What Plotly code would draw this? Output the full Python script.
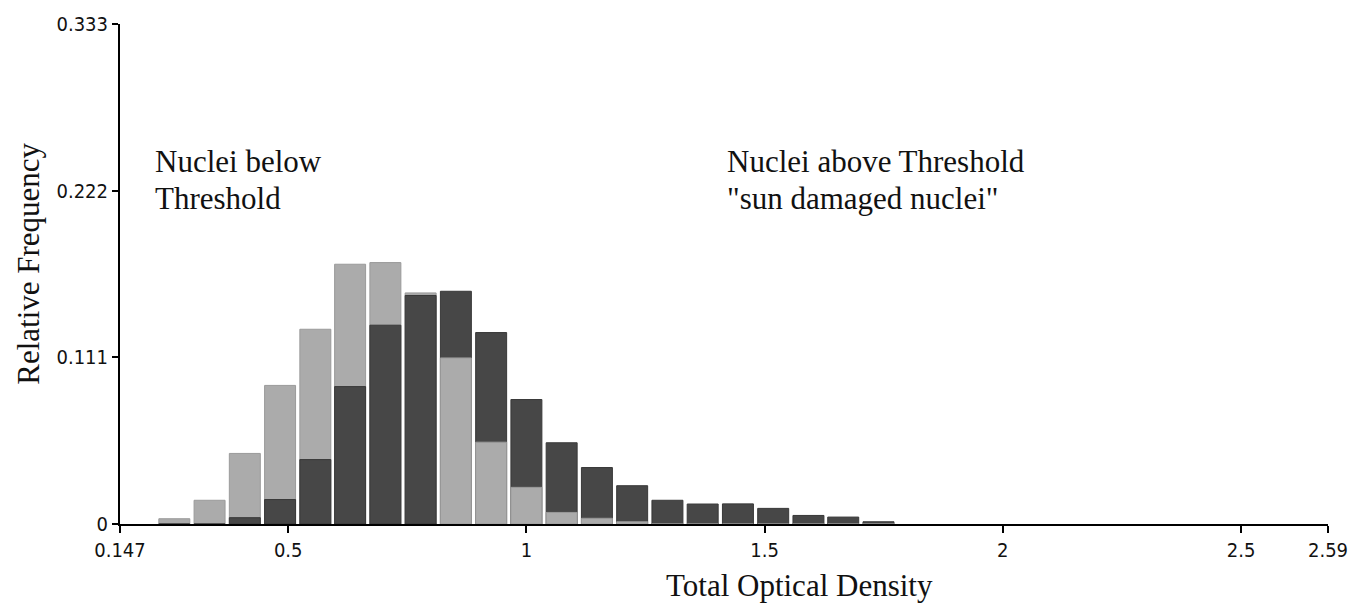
import plotly.graph_objects as go

# ---- data ----
bin_centers = [0.261, 0.335, 0.409, 0.483, 0.557, 0.630, 0.704, 0.778, 0.852, 0.926,
               1.000, 1.074, 1.148, 1.222, 1.296, 1.370, 1.444, 1.518, 1.592, 1.665, 1.739]
below_threshold = [0.0035, 0.0158, 0.0470, 0.0923, 0.1297, 0.1730, 0.1741, 0.1539, 0.1106, 0.0545,
                   0.0244, 0.0077, 0.0038, 0.0015, 0.0, 0.0, 0.0, 0.0, 0.0, 0.0, 0.0]
above_threshold = [0.0, 0.0, 0.0042, 0.0163, 0.0429, 0.0915, 0.1324, 0.1522, 0.1550, 0.1275,
                   0.0829, 0.0541, 0.0376, 0.0255, 0.0158, 0.0133, 0.0134, 0.0104, 0.0057, 0.0046, 0.0015]
x_tick_vals = [0.147, 0.5, 1, 1.5, 2, 2.5, 2.6825]
x_tick_text = ["0.147", "0.5", "1", "1.5", "2", "2.5", "2.59"]
y_tick_vals = [0, 0.111, 0.222, 0.333]
y_tick_text = ["0", "0.111", "0.222", "0.333"]

LIGHT = "#ababab"
LIGHT_EDGE = "#9a9a9a"
DARK = "#474747"
DARK_EDGE = "#383838"
bar_width = 0.065

# taller bar drawn behind, shorter bar in front
back_y, back_c, back_e, front_y, front_c, front_e = [], [], [], [], [], []
for lo, hi in zip(below_threshold, above_threshold):
    if lo >= hi:
        back_y.append(lo); back_c.append(LIGHT); back_e.append(LIGHT_EDGE)
        front_y.append(hi); front_c.append(DARK); front_e.append(DARK_EDGE)
    else:
        back_y.append(hi); back_c.append(DARK); back_e.append(DARK_EDGE)
        front_y.append(lo); front_c.append(LIGHT); front_e.append(LIGHT_EDGE)

fig = go.Figure()
fig.add_trace(go.Bar(x=bin_centers, y=back_y, width=bar_width,
                     marker=dict(color=back_c, line=dict(color=back_e, width=1)),
                     showlegend=False))
fig.add_trace(go.Bar(x=bin_centers, y=front_y, width=bar_width,
                     marker=dict(color=front_c, line=dict(color=front_e, width=1)),
                     showlegend=False))

tick_font = dict(family="Liberation Sans Narrow, DejaVu Sans Condensed, Arial Narrow, sans-serif",
                 size=20, color="#111")
serif = "Liberation Serif, Times New Roman, serif"

fig.update_layout(
    width=1371, height=610,
    margin=dict(l=120, r=43, t=22, b=86),
    paper_bgcolor="white", plot_bgcolor="white",
    barmode="overlay",
    xaxis=dict(range=[0.147, 2.6825], tickvals=x_tick_vals, ticktext=x_tick_text,
               showline=True, linecolor="black", linewidth=2, ticks="outside",
               ticklen=7, tickwidth=2, tickcolor="black", showgrid=False,
               zeroline=False, tickfont=tick_font),
    yaxis=dict(range=[0, 0.333], tickvals=y_tick_vals, ticktext=y_tick_text,
               showline=True, linecolor="black", linewidth=2, ticks="outside",
               ticklen=6, tickwidth=2, tickcolor="black", showgrid=False,
               zeroline=False, tickfont=tick_font),
    font=dict(family=serif, color="#111"),
)

annots = [
    dict(text="Nuclei below", x=0.2168, y=160),
    dict(text="Threshold", x=0.2168, y=197),
    dict(text="Nuclei above Threshold", x=1.4165, y=160),
    dict(text="\"sun damaged nuclei\"", x=1.4165, y=197),
]
for a in annots:
    fig.add_annotation(text=a["text"], x=a["x"], xref="x",
                       y=(523.5 - a["y"]) / 501.8, yref="paper",
                       xanchor="left", yanchor="middle", showarrow=False,
                       font=dict(family=serif, size=31, color="#111"))

fig.add_annotation(text="Total Optical Density", x=(800 - 119.7) / 1208.6, xref="paper",
                   y=-(585 - 523.5) / 501.8, yref="paper", xanchor="center", yanchor="middle",
                   showarrow=False, font=dict(family=serif, size=31, color="#111"))
fig.add_annotation(text="Relative Frequency", x=-(119.7 - 28) / 1208.6, xref="paper",
                   y=(523.5 - 262) / 501.8, yref="paper", xanchor="center", yanchor="middle",
                   textangle=-90, showarrow=False, font=dict(family=serif, size=31, color="#111"))

fig.write_html("out.html")
